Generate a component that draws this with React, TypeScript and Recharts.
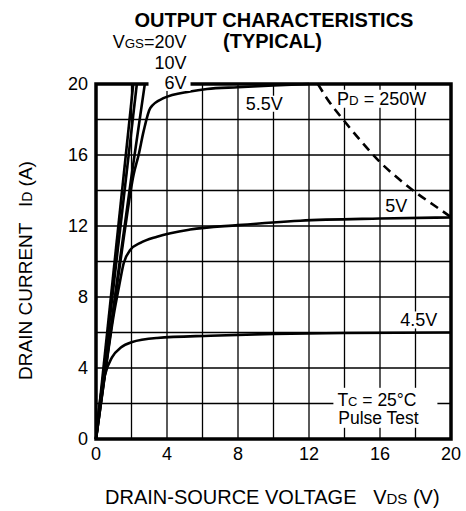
import React from 'react';
import { LineChart, Line, XAxis, YAxis, CartesianGrid, ReferenceArea, ReferenceDot } from 'recharts';

// ---- data ----
const gridTicks = [0, 2, 4, 6, 8, 10, 12, 14, 16, 18, 20];

const vds20 = [0, 2.1];
const id20 = [0, 20];

const vds10 = [0, 2.3];
const id10 = [0, 20];

const vds6 = [0, 1.2, 2.0, 2.75];
const id6 = [0, 9.0, 14.8, 20];

const vds55 = [0, 1.0, 1.6, 2.12, 2.4, 2.68, 3.06, 3.8, 5.3, 6.25, 8, 10, 12];
const id55 = [0, 7.3, 11.6, 14.9, 16.0, 17.33, 18.65, 19.2, 19.58, 19.72, 19.82, 19.92, 20];

const vds5 = [0, 0.5, 1.0, 1.3, 1.56, 1.94, 2.5, 3.44, 5.3, 8, 11.5, 16, 20];
const id5 = [0, 3.6, 7.0, 8.6, 9.9, 10.66, 11.05, 11.4, 11.8, 12.05, 12.3, 12.42, 12.48];

const vds45 = [0, 0.25, 0.5, 0.9, 1.4, 2.0, 3.44, 6.44, 10, 14, 20];
const id45 = [0, 2.3, 3.6, 4.6, 5.15, 5.45, 5.69, 5.82, 5.92, 5.97, 6.0];

const vdsPd = [12.5, 13, 14, 15, 16, 17, 18, 19, 20];
const idPd = [20, 19.2, 17.9, 16.7, 15.6, 14.7, 13.9, 13.2, 12.5];

const toPts = (xs: number[], ys: number[]) => xs.map((x, i) => ({ x, y: ys[i] }));

const FONT = '"Liberation Sans", Arial, Helvetica, sans-serif';

type Part = { t: string; s?: boolean };

const Anno = (props: any) => {
  const { cx, cy, parts, anchor = 'start', bg, size = 18 } = props;
  if (cx == null || cy == null) return null;
  return (
    <g>
      {bg && <rect x={cx + bg[0]} y={cy + bg[1]} width={bg[2]} height={bg[3]} fill="#fff" />}
      <text x={cx} y={cy} textAnchor={anchor} fontSize={size} fill="#000" fontFamily={FONT} style={{ whiteSpace: 'pre' }}>
        {(parts as Part[]).map((p, i) => (
          <tspan key={i} fontSize={p.s ? size * 0.74 : size}>{p.t}</tspan>
        ))}
      </text>
    </g>
  );
};

const annos: { x: number; y: number; parts: Part[]; anchor?: string; bg?: number[]; size?: number }[] = [
  { x: 5.1, y: 22.03, parts: [{ t: 'V' }, { t: 'GS', s: true }, { t: '=20V' }], anchor: 'end' },
  { x: 5.1, y: 20.86, parts: [{ t: '10V' }], anchor: 'end' },
  { x: 5.1, y: 19.72, parts: [{ t: '6V' }], anchor: 'end', bg: [-38, -12, 42, 14] },
  { x: 8.43, y: 18.55, parts: [{ t: '5.5V' }], bg: [-2, -14, 42, 16] },
  { x: 13.58, y: 18.83, parts: [{ t: 'P' }, { t: 'D', s: true }, { t: ' = 250W' }], bg: [-2, -15, 103, 18] },
  { x: 16.3, y: 12.8, parts: [{ t: '5V' }] },
  { x: 17.14, y: 6.34, parts: [{ t: '4.5V' }], bg: [-2, -15, 44, 17] },
  { x: 13.6, y: 1.87, parts: [{ t: 'T' }, { t: 'C', s: true }, { t: ' = 25°C' }], bg: [-4, -18, 104, 40], size: 17.5 },
  { x: 13.65, y: 0.84, parts: [{ t: 'Pulse Test' }], size: 17.5 },
];

const fmt = (v: number) => (v % 4 === 0 ? String(v) : '');

export default function App() {
  const lineProps = { type: 'linear' as const, dataKey: 'y', stroke: '#000', strokeWidth: 2.6, dot: false, activeDot: false, isAnimationActive: false };
  return (
    <div style={{ position: 'relative', width: 466, height: 511 }}>
      <style>{`body{margin:0}`}</style>
      <LineChart width={466} height={511} margin={{ top: 84, right: 15, bottom: 42, left: 0 }}>
        <CartesianGrid stroke="#000" strokeWidth={1.3} />
        <XAxis
          dataKey="x"
          type="number"
          domain={[0, 20]}
          ticks={gridTicks}
          interval={0}
          tickFormatter={fmt}
          axisLine={false}
          tickLine={false}
          height={30}
          tick={{ fill: '#000', fontSize: 18, fontFamily: FONT }}
        />
        <YAxis
          type="number"
          domain={[0, 20]}
          ticks={gridTicks}
          interval={0}
          tickFormatter={fmt}
          axisLine={false}
          tickLine={false}
          width={96}
          tick={{ fill: '#000', fontSize: 18, fontFamily: FONT }}
        />
        <ReferenceArea x1={0} x2={20} y1={0} y2={20} fill="none" stroke="#000" strokeWidth={3.5} ifOverflow="visible" />
        <Line {...lineProps} data={toPts(vds20, id20)} />
        <Line {...lineProps} data={toPts(vds10, id10)} />
        <Line {...lineProps} type="monotone" data={toPts(vds6, id6)} />
        <Line {...lineProps} type="monotone" data={toPts(vds55, id55)} />
        <Line {...lineProps} type="monotone" data={toPts(vds5, id5)} />
        <Line {...lineProps} type="monotone" data={toPts(vds45, id45)} />
        <Line {...lineProps} type="monotone" data={toPts(vdsPd, idPd)} strokeDasharray="9 6" />
        {annos.map((a, i) => (
          <ReferenceDot
            key={i}
            x={a.x}
            y={a.y}
            r={1}
            ifOverflow="visible"
            shape={(p: any) => <Anno cx={p.cx} cy={p.cy} parts={a.parts} anchor={a.anchor} bg={a.bg} size={a.size} />}
          />
        ))}
      </LineChart>
      <svg width={466} height={511} style={{ position: 'absolute', left: 0, top: 0, pointerEvents: 'none' }}>
        <g fontFamily={FONT} fill="#000">
          <text x={274} y={26.7} textAnchor="middle" fontSize={20} fontWeight="bold">OUTPUT CHARACTERISTICS</text>
          <text x={272.5} y={48} textAnchor="middle" fontSize={20} fontWeight="bold">(TYPICAL)</text>
          <text transform="translate(31.5,270.5) rotate(-90)" textAnchor="middle" fontSize={19} style={{ whiteSpace: 'pre' }}>
            <tspan>DRAIN CURRENT   I</tspan>
            <tspan fontSize={14}>D</tspan>
            <tspan> (A)</tspan>
          </text>
          <text x={105} y={504} fontSize={20} style={{ whiteSpace: 'pre' }}>
            <tspan>DRAIN-SOURCE VOLTAGE   V</tspan>
            <tspan fontSize={15}>DS</tspan>
            <tspan> (V)</tspan>
          </text>
        </g>
      </svg>
    </div>
  );
}
